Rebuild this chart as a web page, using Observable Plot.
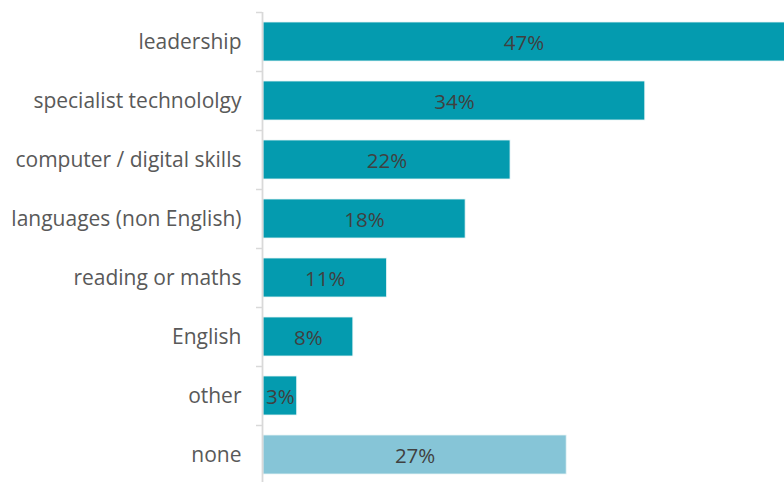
<!DOCTYPE html>
<html>
<head>
<meta charset="utf-8">
<script src="https://cdn.jsdelivr.net/npm/d3@7"></script>
<script src="https://cdn.jsdelivr.net/npm/@observablehq/plot@0.6"></script>
<style>
  html, body { margin: 0; padding: 0; background: #fff; }
  #chart svg { display: block; }
</style>
</head>
<body>
<div id="chart"></div>
<script>
const categories = ["leadership", "specialist technololgy", "computer / digital skills", "languages (non English)", "reading or maths", "English", "other", "none"];
const values = [47, 34, 22, 18, 11, 8, 3, 27];
const groups = ["skill", "skill", "skill", "skill", "skill", "skill", "skill", "none"];

const data = categories.map((c, i) => ({category: c, value: values[i], group: groups[i]}));
const xMax = 46.4;
const font = "'Open Sans', Lato, sans-serif";
const step = (484 - 12) / categories.length;

const chart = Plot.plot({
  width: 784,
  height: 482,
  marginLeft: 263,
  marginRight: 0,
  marginTop: 12,
  marginBottom: 0,
  style: {fontFamily: font, fontSize: "21px", color: "#404040", background: "#fff"},
  x: {domain: [0, xMax], range: [263, 784], axis: null},
  y: {domain: categories, range: [12, 484], paddingInner: 0.34, paddingOuter: 0.17, align: 0.5, label: null},
  color: {domain: ["skill", "none"], range: ["#049BAF", "#86C5D7"]},
  marks: [
    Plot.barX(data, {y: "category", x: "value", fill: "group", stroke: "#e8f4f6", strokeWidth: 0.8, clip: true}),
    Plot.text(data, {y: "category", x: d => Math.min(d.value, xMax) / 2, text: d => d.value + "%", fill: "#404040", fontSize: 20.5, dy: 1}),
    Plot.axisY({ticks: categories, tickSize: 6, dy: -step / 2, tickFormat: () => "", stroke: "#d9d9d9", strokeWidth: 1.5, dx: -1}),
    Plot.axisY({ticks: categories, tickSize: 0, tickPadding: 22, fontSize: 21, fill: "#595959", label: null}),
    Plot.ruleX([0], {stroke: "#d9d9d9", strokeWidth: 1.8, dx: -1})
  ]
});
document.getElementById("chart").appendChild(chart);
</script>
</body>
</html>
